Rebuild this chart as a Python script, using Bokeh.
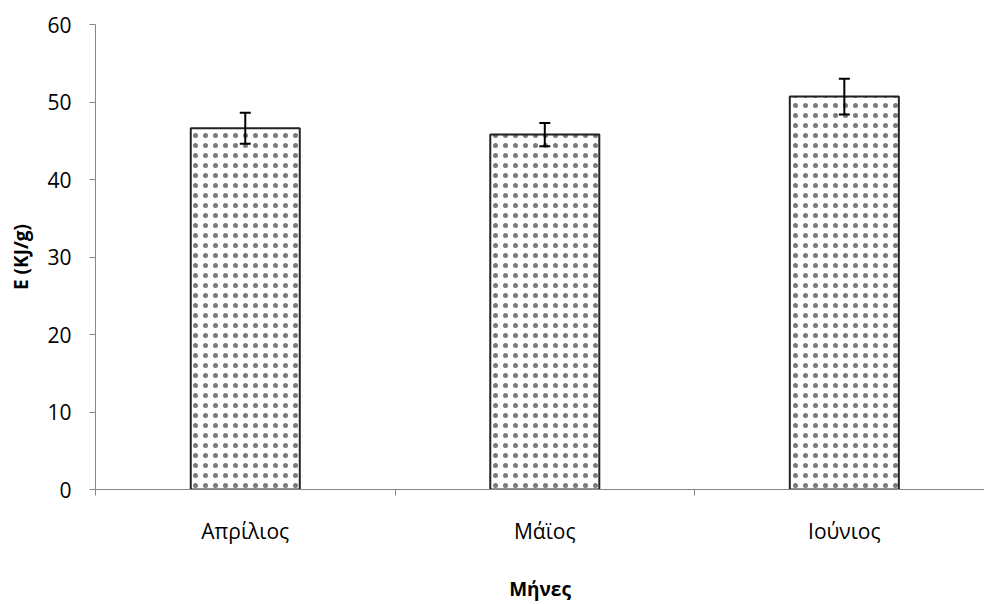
from bokeh.plotting import figure
from bokeh.models import Range1d, FixedTicker, ColumnDataSource, Whisker, TeeHead
from bokeh.embed import file_html
from bokeh.resources import INLINE

months = ["Απρίλιος", "Μάϊος", "Ιούνιος"]
energy = [46.6, 45.8, 50.7]
errors = [2.0, 1.5, 2.3]
y_ticks = [0, 10, 20, 30, 40, 50, 60]
x_title = "Μήνες"
y_title = "E (KJ/g)"

xpos = [i + 0.5 for i in range(len(months))]
src = ColumnDataSource(dict(
    x=xpos, top=energy,
    upper=[v + e for v, e in zip(energy, errors)],
    lower=[v - e for v, e in zip(energy, errors)],
))

FONT = "Open Sans"
GRAY = "#868686"

p = figure(width=984, height=604, output_backend="svg", toolbar_location=None,
           x_range=Range1d(0, 2.968), y_range=Range1d(0, 60),
           min_border_left=95, min_border_right=0, min_border_top=24, min_border_bottom=114)
p.outline_line_color = None
p.grid.grid_line_color = None
p.background_fill_color = "white"
p.border_fill_color = "white"

p.vbar(x="x", top="top", width=0.364, bottom=0, source=src,
       fill_color="white", line_color="#222222", line_width=2,
       hatch_pattern=".", hatch_scale=10, hatch_weight=2.2, hatch_color="#7a7a7a")

w = Whisker(base="x", upper="upper", lower="lower", source=src, level="overlay",
            line_color="black", line_width=2,
            upper_head=TeeHead(size=11, line_color="black", line_width=2),
            lower_head=TeeHead(size=11, line_color="black", line_width=2))
p.add_layout(w)

# y axis
ya = p.yaxis[0]
ya.ticker = FixedTicker(ticks=y_ticks)
ya.axis_line_color = GRAY
ya.major_tick_line_color = GRAY
ya.major_tick_out = 6
ya.major_tick_in = 0
ya.minor_tick_line_color = None
ya.major_label_text_font = FONT
ya.major_label_text_font_size = "21px"
ya.major_label_text_color = "#000000"
ya.major_label_standoff = 18
ya.axis_label = y_title
ya.axis_label_text_font = FONT
ya.axis_label_text_font_size = "19px"
ya.axis_label_text_font_style = "bold"
ya.axis_label_text_color = "#000000"
ya.axis_label_standoff = 10

# x axis
xa = p.xaxis[0]
xa.ticker = FixedTicker(ticks=xpos, minor_ticks=[0, 1, 2, 3])
xa.major_label_overrides = {x: m for x, m in zip(xpos, months)}
xa.axis_line_color = GRAY
xa.major_tick_line_color = None
xa.major_tick_out = 0
xa.major_tick_in = 0
xa.minor_tick_line_color = GRAY
xa.minor_tick_out = 6
xa.minor_tick_in = 0
xa.major_label_text_font = FONT
xa.major_label_text_font_size = "21px"
xa.major_label_text_color = "#000000"
xa.major_label_standoff = 21
xa.axis_label = x_title
xa.axis_label_text_font = FONT
xa.axis_label_text_font_size = "19px"
xa.axis_label_text_font_style = "bold"
xa.axis_label_text_color = "#000000"
xa.axis_label_standoff = 28

open("out.html", "w").write(file_html(p, INLINE))
